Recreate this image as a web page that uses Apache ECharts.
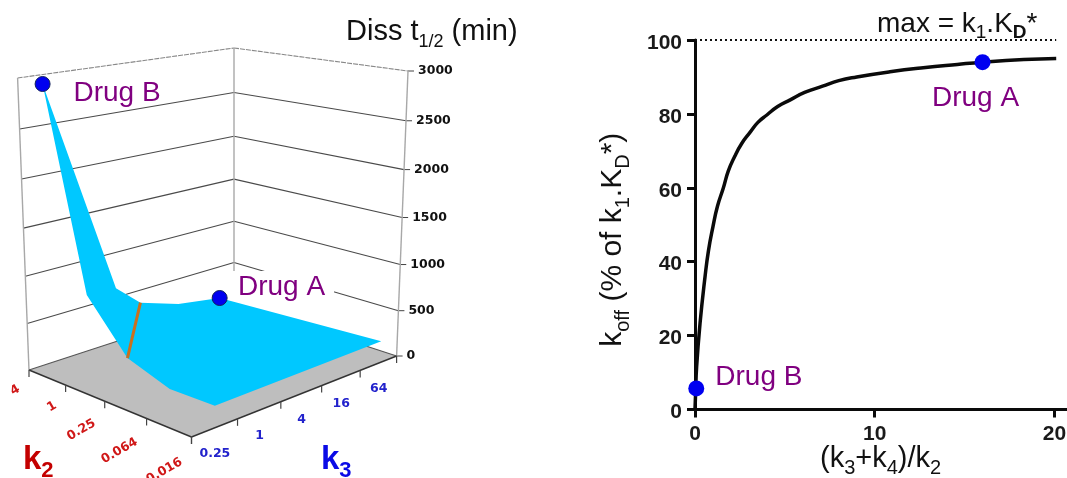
<!DOCTYPE html>
<html><head><meta charset="utf-8">
<style>html,body{margin:0;padding:0;background:#fff;overflow:hidden}#c{width:1067px;height:478px}</style>
<script src="https://cdn.jsdelivr.net/npm/echarts@6/dist/echarts.min.js"></script>
</head><body><div id="c"></div>
<script>
// ---- Right panel data
const curveX = [0, 0.03, 0.09, 0.28, 0.56, 0.75, 1.0, 1.25, 1.58, 1.85, 2.2, 2.6, 3.06, 3.5, 4, 4.6, 5.3, 6.1, 7.1, 8, 9, 10.85, 12.7, 14.6, 16, 18.3, 20.1];
const curveY = [0, 4, 11.5, 23.3, 36, 43, 49.5, 55, 60, 64.5, 68.4, 72, 75, 77.7, 79.7, 82, 83.8, 85.8, 87.5, 89, 90, 91.4, 92.5, 93.4, 94, 94.7, 95];
const maxLineX = [0, 20.1];
const maxLineY = [100, 100];
const drugNames = ['Drug A', 'Drug B'];
const drugX = [16, 0.07];
const drugY = [94, 5.7];
const koffXTicks = [0, 10, 20];

// ---- Left panel data (fractions along the k3 / k2 floor axes, height in min)
const heightTicks = [0, 500, 1000, 1500, 2000, 2500, 3000];
const k2Labels = ['4', '1', '0.25', '0.064', '0.016'];
const k3Labels = ['0.25', '1', '4', '16', '64'];
const surfaceK3 = [0.1, 0.395, 0.51, 0.7, 0.92, 0.91, 0.1, 0.1, 0.1, 0.1];
const surfaceK2 = [0, 0, 0, 0, 0, 1, 1, 0.75, 0.5, 0.25];
const surfaceMin = [2907, 603, 356, 203, 119, 232, 213, 208, 359, 865];
const orangeIdx = [8, 2];
const dot3dIdx = [0, 4];

// ---- Projection layout of the 3D box
const floorA = [29, 370], floorD = [234, 303], floorB = [191.5, 437], floorC = [396.6, 356];
const topA = [17.6, 78], topD = [234, 48], topB = [189.5, 106], topC = [408, 71];
const warpU = 0.864, warpV = 1.146, warpZ = 1.058;
const warp = (t, k) => t / (t + (1 - t) * k);
const bil = (a, d, b, c, u, v, n) =>
  (1 - u) * (1 - v) * a[n] + u * (1 - v) * d[n] + (1 - u) * v * b[n] + u * v * c[n];
function project(u, v, h) {
  const U = warp(u, warpU), V = warp(v, warpV), T = warp(h / 3000, warpZ);
  return [0, 1].map(n => {
    const f = bil(floorA, floorD, floorB, floorC, U, V, n);
    const t = bil(topA, topD, topB, topC, U, V, n);
    return f + (t - f) * T;
  });
}

const ARIAL = '"Liberation Sans", Arial, sans-serif';
const VERD = '"DejaVu Sans", Verdana, sans-serif';
const PURPLE = '#800080', CYAN = '#00C8FF', BLUE = '#0000F0';

function layer(name, list, z, build) {
  return {
    type: 'custom', name, coordinateSystem: 'cartesian2d', xAxisIndex: 1, yAxisIndex: 1,
    silent: true, animation: false, clip: false, z,
    data: list.map((_, i) => [i, i]),
    encode: { x: 0, y: 1 },
    renderItem: (p, api) => build(p.dataIndex)
  };
}
const line = (a, b, stroke, lineWidth, lineDash) => ({
  type: 'line', shape: { x1: a[0], y1: a[1], x2: b[0], y2: b[1] },
  style: { stroke, lineWidth, lineDash: lineDash || null, fill: null }
});
const text = (at, t, font, fill, align, extra) => ({
  type: 'text', x: at[0], y: at[1], rotation: (extra && extra.rotation) || 0,
  style: Object.assign({ text: t, font, fill, align, verticalAlign: 'middle' }, (extra && extra.style) || {})
});
const sub = (size, pad, weight, color) => ({
  fontSize: size, fontFamily: ARIAL, fontWeight: weight || 'normal', color: color || '#111', fill: color || '#111',
  verticalAlign: 'top', padding: [pad, 0, 0, 0]
});
const base = (size, weight, color) => ({
  fontSize: size, fontFamily: ARIAL, fontWeight: weight || 'normal', color: color || '#111', fill: color || '#111', verticalAlign: 'top'
});

const series = [
  // right panel
  { type: 'line', xAxisIndex: 0, yAxisIndex: 0, data: maxLineX.map((x, i) => [x, maxLineY[i]]),
    symbol: 'none', clip: false, lineStyle: { color: '#111', width: 2, type: [2, 3] }, z: 2, animation: false },
  { type: 'line', xAxisIndex: 0, yAxisIndex: 0, data: curveX.map((x, i) => [x, curveY[i]]),
    symbol: 'none', smooth: 0.5, clip: false, lineStyle: { color: '#0a0a0a', width: 3.5 }, z: 3, animation: false },
  { type: 'scatter', xAxisIndex: 0, yAxisIndex: 0, symbolSize: 16, z: 4, animation: false, clip: false,
    itemStyle: { color: BLUE, opacity: 1 },
    data: drugX.map((x, i) => ({
      value: [x, drugY[i]], name: drugNames[i],
      label: {
        show: true, formatter: drugNames[i], color: PURPLE, opacity: 1, fontFamily: ARIAL, fontSize: 28,
        position: i === 0 ? 'bottom' : 'right',
        distance: i === 0 ? 14 : 11, offset: i === 0 ? [-7, 0] : [0, -11]
      }
    })) },
  // 3D box: walls
  layer('heights', heightTicks, 5, i => {
    const h = heightTicks[i], isTop = h === 3000, isZero = h === 0;
    const a = project(0, 0, h), d = project(1, 0, h), c = project(1, 1, h);
    const col = isTop ? '#888' : '#4a4a4a', dash = isTop ? [5, 1] : null;
    const ch = [
      text([c[0] + 10, c[1]], String(h), 'bold 12.5px ' + VERD, '#111', 'left'),
      line(c, [c[0] + 6, c[1]], '#444', 1)
    ];
    if (!isZero) ch.push(line(a, d, col, 1.1, dash), line(d, c, col, 1.1, dash));
    return { type: 'group', children: ch };
  }),
  layer('verticals', [[0, 0], [1, 0], [1, 1]], 5, i => {
    const uv = [[0, 0], [1, 0], [1, 1]][i];
    return line(project(uv[0], uv[1], 0), project(uv[0], uv[1], 3000), '#a8a8a8', 1.4);
  }),
  // floor
  layer('floor', [0], 6, () => ({
    type: 'group', children: [
      { type: 'polygon', shape: { points: [project(0, 0, 0), project(1, 0, 0), project(1, 1, 0), project(0, 1, 0)] },
        style: { fill: '#BEBEBE' } },
      line(project(0, 0, 0), project(0, 1, 0), '#333', 1.4),
      line(project(0, 1, 0), project(1, 1, 0), '#333', 1.4),
      line(project(0, 0, 0), project(1, 0, 0), '#555', 1.1),
      line(project(1, 0, 0), project(1, 1, 0), '#555', 1.1)
    ]
  })),
  layer('k2axis', k2Labels, 6, i => {
    const v = i / (k2Labels.length - 1), p = project(0, v, 0);
    return { type: 'group', children: [
      line(p, [p[0], p[1] + 7], '#444', 1.2),
      text([p[0] - 10, p[1] + 18 + i * 1.5], k2Labels[i], 'bold 12.5px ' + VERD, '#D01818', 'right',
        { rotation: Math.PI / 6 })
    ] };
  }),
  layer('k3axis', [0, 1, 2, 3, 4, 5], 6, i => {
    const p = project(i / 5, 1, 0), ch = [line(p, [p[0], p[1] + 7], '#444', 1.2)];
    if (i < 5) {
      const m = project((i + 0.5) / 5, 1, 0);
      ch.push(text([m[0], m[1] + 26], k3Labels[i], 'bold 12.5px ' + VERD, '#2222CC', 'center'));
    }
    return { type: 'group', children: ch };
  }),
  // labels behind the surface
  layer('drugLabels', [0], 7, () => ({
    type: 'group', children: [
      text([282, 287], 'Drug A', '28px ' + ARIAL, PURPLE, 'center',
        { style: { backgroundColor: '#fff', padding: [2, 9, 2, 8] } }),
      text([117, 93], 'Drug B', '28px ' + ARIAL, PURPLE, 'center')
    ]
  })),
  // surface
  layer('surface', [0], 8, () => ({
    type: 'polygon',
    shape: { points: surfaceMin.map((h, i) => project(surfaceK3[i], surfaceK2[i], h)) },
    style: { fill: CYAN }
  })),
  layer('orange', [0], 9, () => line(
    project(surfaceK3[orangeIdx[0]], surfaceK2[orangeIdx[0]], surfaceMin[orangeIdx[0]]),
    project(surfaceK3[orangeIdx[1]], surfaceK2[orangeIdx[1]], surfaceMin[orangeIdx[1]]),
    '#C9701F', 3)),
  layer('dots', dot3dIdx, 10, i => {
    const k = dot3dIdx[i], p = project(surfaceK3[k], surfaceK2[k], surfaceMin[k]);
    return { type: 'circle', shape: { cx: p[0], cy: p[1], r: 7.5 },
      style: { fill: BLUE, stroke: '#10205a', lineWidth: 1 } };
  }),
  // titles
  layer('titles', [0], 11, () => ({
    type: 'group', children: [
      { type: 'text', x: 346, y: 17, style: {
        text: '{b|Diss t}{s|1/2}{b| (min)}',
        rich: { b: base(29), s: sub(18, 16) } } },
      { type: 'text', x: 877, y: 10, style: {
        text: '{b|max = k}{s|1}{b|.K}{d|D}{b|*}',
        rich: { b: base(28), s: sub(19, 13), d: sub(19, 13, 'bold') } } },
      { type: 'text', x: 820, y: 444, style: {
        text: '{b|(k}{s|3}{b|+k}{s|4}{b|)/k}{s|2}',
        rich: { b: base(29), s: sub(20, 14) } } },
      { type: 'text', x: 23, y: 443, style: {
        text: '{b|k}{s|2}',
        rich: { b: base(33, 'bold', '#C40000'), s: sub(22, 17, 'bold', '#C40000') } } },
      { type: 'text', x: 321, y: 443, style: {
        text: '{b|k}{s|3}',
        rich: { b: base(33, 'bold', '#0A0AE6'), s: sub(22, 17, 'bold', '#0A0AE6') } } }
    ]
  }))
];

const axisCommon = {
  axisLine: { show: true, onZero: false, lineStyle: { color: '#0a0a0a', width: 3 } },
  axisTick: { show: true, inside: false, length: 8, lineStyle: { color: '#0a0a0a', width: 3 } },
  splitLine: { show: false }, minorTick: { show: false }
};
const option = {
  backgroundColor: '#fff', animation: false,
  grid: [
    { left: 695, top: 40, width: 372, height: 369.5, outerBoundsMode: 'none' },
    { left: 0, top: 0, width: 1067, height: 478, show: false, outerBoundsMode: 'none' }
  ],
  xAxis: [
    Object.assign({}, axisCommon, {
      type: 'value', gridIndex: 0, min: 0, max: 20.7, interval: 10,
      axisTick: Object.assign({}, axisCommon.axisTick, { customValues: koffXTicks }),
      axisLabel: { customValues: koffXTicks, color: '#1a1a1a', fontFamily: ARIAL, fontWeight: 'bold', fontSize: 21, margin: 14, hideOverlap: false }
    }),
    { type: 'value', gridIndex: 1, min: 0, max: 1067, show: false }
  ],
  yAxis: [
    Object.assign({}, axisCommon, {
      type: 'value', gridIndex: 0, min: 0, max: 100, interval: 20,
      axisLabel: {
        margin: 13, formatter: v => '{a|' + v + '}',
        rich: { a: { color: '#1a1a1a', fontFamily: ARIAL, fontWeight: 'bold', fontSize: 21, padding: [6, 0, 0, 0] } }
      },
      name: '{b|k}{s|off}{b| (% of k}{s|1}{b|.K}{s|D}{b|*)}', nameLocation: 'middle', nameGap: 62, nameRotate: 90,
      nameTextStyle: { padding: [0, 30, 0, 0], rich: { b: base(30), s: sub(20, 15) } }
    }),
    { type: 'value', gridIndex: 1, min: 0, max: 478, inverse: true, show: false }
  ],
  series
};
const chart = echarts.init(document.getElementById('c'), null, { renderer: 'canvas' });
chart.setOption(option);
</script></body></html>
